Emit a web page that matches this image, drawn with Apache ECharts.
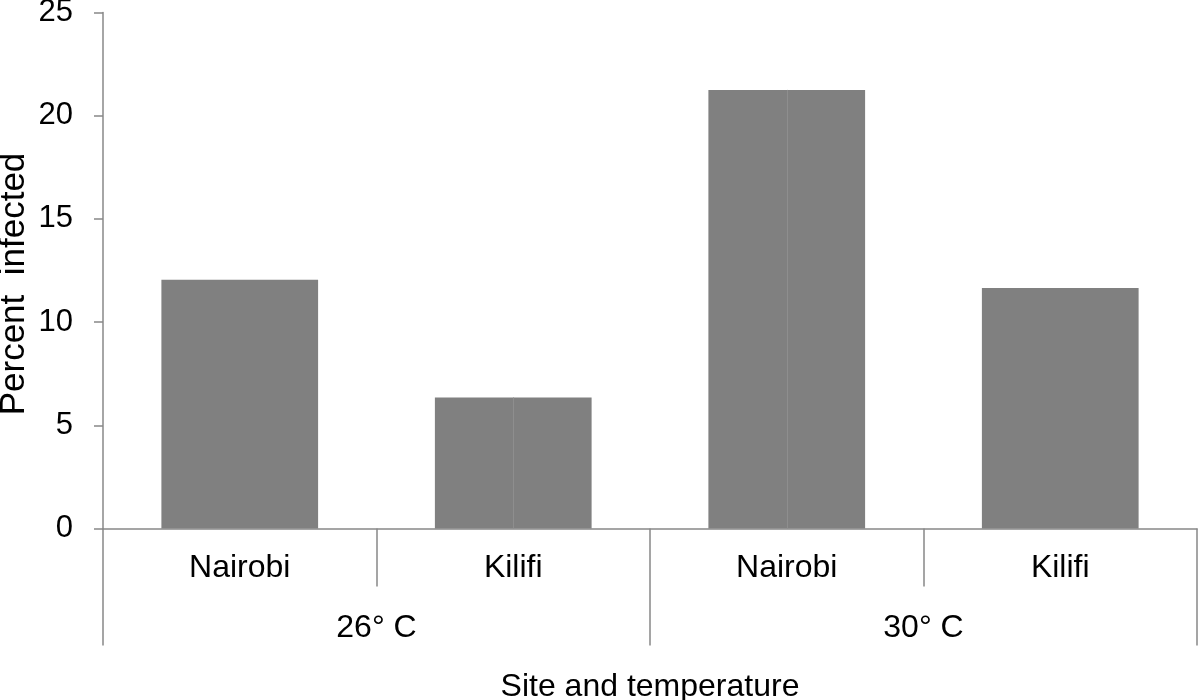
<!DOCTYPE html>
<html>
<head>
<meta charset="utf-8">
<script src="https://cdn.jsdelivr.net/npm/echarts@6/dist/echarts.min.js"></script>
<style>html,body{margin:0;padding:0;background:#fff}#c{width:1200px;height:700px}</style>
</head>
<body>
<div id="c"></div>
<script>
const sites = ['Nairobi', 'Kilifi', 'Nairobi', 'Kilifi'];
const temperatures = ['26° C', '30° C'];
const percentInfected = [12.05, 6.35, 21.25, 11.65];
const splitBars = [1, 2]; // bars drawn with a faint middle divider
const yTicks = { min: 0, max: 25, interval: 5 };

const FONT = 'Liberation Sans, Arial, sans-serif';
const AXIS = '#888888';

const chart = echarts.init(document.getElementById('c'), null, { renderer: 'canvas' });
chart.setOption({
  animation: false,
  backgroundColor: '#ffffff',
  grid: { left: 103, right: 3, top: 12.5, bottom: 171.5, containLabel: false, outerBoundsMode: 'none' },
  xAxis: [
    {
      type: 'category',
      data: sites,
      position: 'bottom',
      axisLine: { show: true, lineStyle: { color: AXIS, width: 1.5 } },
      axisTick: { show: true, length: 58, lineStyle: { color: AXIS, width: 1.5 } },
      axisLabel: { margin: 24, fontSize: 32, color: '#000', fontFamily: FONT },
      name: 'Site and temperature',
      nameLocation: 'middle',
      nameGap: 143,
      nameMoveOverlap: false,
      nameTextStyle: { fontSize: 32, color: '#000', fontFamily: FONT }
    },
    {
      type: 'category',
      data: temperatures,
      position: 'bottom',
      offset: 0,
      axisLine: { show: false },
      axisTick: { show: true, length: 117, lineStyle: { color: AXIS, width: 1.5 } },
      axisLabel: { margin: 84, fontSize: 32, color: '#000', fontFamily: FONT }
    }
  ],
  yAxis: {
    type: 'value',
    min: yTicks.min,
    max: yTicks.max,
    interval: yTicks.interval,
    axisLine: { show: true, lineStyle: { color: AXIS, width: 1.5 } },
    axisTick: { show: true, length: 9, lineStyle: { color: AXIS, width: 1.5 } },
    splitLine: { show: false },
    axisLabel: { margin: 30, fontSize: 31, color: '#000', fontFamily: FONT },
    name: 'Percent  infected',
    nameLocation: 'middle',
    nameGap: 71,
    nameMoveOverlap: false,
    nameTextStyle: { fontSize: 35, color: '#000', fontFamily: FONT, padding: [0, 27, 0, 0] }
  },
  series: [{
    type: 'bar',
    xAxisIndex: 0,
    data: percentInfected,
    barWidth: '57.3%',
    itemStyle: { color: '#808080' },
    markLine: {
      silent: true,
      symbol: 'none',
      label: { show: false },
      lineStyle: { color: '#8e8e8e', width: 1, type: 'solid' },
      data: splitBars.map(i => [
        { coord: [i, 0] },
        { coord: [i, percentInfected[i]] }
      ])
    }
  }]
});
</script>
</body>
</html>
